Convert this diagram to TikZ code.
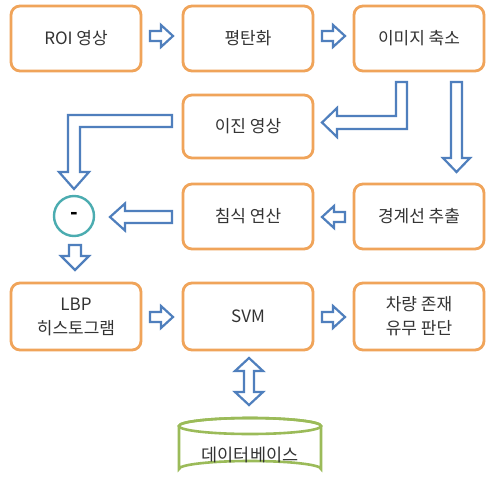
\documentclass[tikz,border=0pt]{standalone}
\usepackage{fontspec}
\setmainfont{Noto Sans CJK KR}
\definecolor{boxor}{HTML}{F0A45A}
\definecolor{arrbl}{HTML}{4F7FBD}
\definecolor{circt}{HTML}{4BACB0}
\definecolor{cylg}{HTML}{9BBB59}
\definecolor{txt}{HTML}{333333}
\begin{document}
\begin{tikzpicture}[x=1pt,y=-1pt,
  procbox/.style={draw=boxor, line width=2.8pt, rounded corners=9pt, fill=white,
    minimum width=130pt, minimum height=65pt, text=txt, font=\fontsize{17}{24}\selectfont, align=center},
  blk/.style={draw=arrbl, line width=2.2pt, fill=white, line join=miter},
]
\useasboundingbox (0,0) rectangle (486,486);
\fill[white] (0,0) rectangle (486,486);
% boxes
\node[procbox] (roi) at (76,38.5) {ROI 영상};
\node[procbox] (eq) at (248,38.5) {평탄화};
\node[procbox] (shr) at (419,38.5) {이미지 축소};
\node[procbox, minimum height=63pt] (bin) at (248,126.5) {이진 영상};
\node[procbox] (ero) at (248,216.5) {침식 연산};
\node[procbox] (edge) at (419,216.5) {경계선 추출};
\node[procbox, minimum height=67pt] (lbp) at (76,316.5) {LBP\\히스토그램};
\node[procbox, minimum height=67pt] (svm) at (248,316.5) {SVM};
\node[procbox, minimum height=67pt] (dec) at (419,316.5) {차량 존재\\유무 판단};
% subtract circle
\node[circle, draw=circt, line width=2.4pt, fill=white, minimum size=40pt, inner sep=0pt, font=\bfseries\fontsize{20}{20}\selectfont] (sub) at (74,216) {-};
% database
\draw[draw=cylg, line width=2.6pt, fill=white]
  (179,426) arc[start angle=180, end angle=360, x radius=71, y radius=8]
  -- (321,469) arc[start angle=360, end angle=180, x radius=71, y radius=8] -- cycle;
\draw[draw=cylg, line width=2.6pt] (250,426) ellipse[x radius=71, y radius=8];
\node[text=txt, font=\fontsize{17.5}{21}\selectfont] (db) at (250,455) {데이터베이스};
% small right arrows
\draw[blk] (150,31)--(161,31)--(161,25)--(173,36)--(161,47)--(161,41)--(150,41)--cycle;
\draw[blk] (322,31)--(333,31)--(333,25)--(345,36)--(333,47)--(333,41)--(322,41)--cycle;
\draw[blk] (150,312)--(161,312)--(161,306)--(173,317)--(161,328)--(161,322)--(150,322)--cycle;
\draw[blk] (322,312)--(333,312)--(333,306)--(345,317)--(333,328)--(333,322)--(322,322)--cycle;
% left arrow edge -> erosion
\draw[blk] (345,212)--(334,212)--(334,206)--(322,217)--(334,228)--(334,222)--(345,222)--cycle;
% long left arrow erosion -> circle
\draw[blk] (172,211)--(125,211)--(125,203.5)--(110,217)--(125,230.5)--(125,223)--(172,223)--cycle;
% bent arrow shrink -> binary
\draw[blk] (396,82)--(407,82)--(407,129)--(337,129)--(337,137)--(322,122.5)--(337,108)--(337,116)--(396,116)--cycle;
% straight down shrink -> edge
\draw[blk] (451,82)--(462,82)--(462,158)--(470,158)--(456.5,172)--(443,158)--(451,158)--cycle;
% bent arrow binary -> circle
\draw[blk] (172,115)--(172,127)--(80,127)--(80,172)--(89,172)--(74,189)--(59,172)--(68,172)--(68,115)--cycle;
% down arrow circle -> lbp
\draw[blk] (69,245)--(81,245)--(81,256)--(89,256)--(75,270)--(61,256)--(69,256)--cycle;
% double arrow svm <-> db
\draw[blk] (249,358)--(263,371)--(254,371)--(254,392)--(263,392)--(249,405)--(235,392)--(244,392)--(244,371)--(235,371)--cycle;
\end{tikzpicture}
\end{document}
